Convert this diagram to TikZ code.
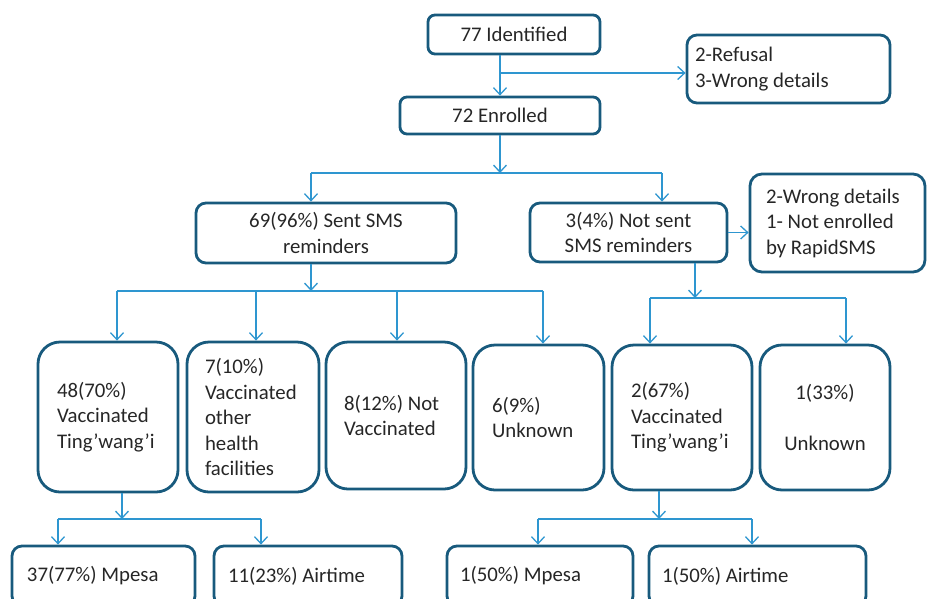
\documentclass[tikz,border=0pt]{standalone}
\usepackage{fontspec}
\setmainfont{Carlito}
\usetikzlibrary{arrows.meta}
\definecolor{boxline}{HTML}{185A7D}
\definecolor{flowline}{HTML}{2E96D0}
\definecolor{txt}{HTML}{262626}

\begin{document}
\begin{tikzpicture}[
  x=1pt, y=-1pt,
  font = \fontsize{20.8}{25.5}\selectfont,
  every node/.style = {text=txt, execute at begin node={\spaceskip=0pt\xspaceskip=0pt}},
  base/.style   = {draw=boxline, line width=2.8pt, inner sep=0pt},
  topbox/.style = {base, rounded corners=7pt, align=center},
  notebox/.style= {base, rounded corners=12pt, align=left},
  tallbox/.style= {base, rounded corners=22pt, align=left},
  endbox/.style = {base, rounded corners=10pt, align=left},
  flow/.style   = {draw=flowline, line width=1.3pt},
  arr/.style    = {flow, -{Straight Barb[length=7pt,width=13pt,line width=1.3pt]}},
]
\clip (0,0) rectangle (927,598);

% Top of the flow
\node[topbox, minimum width=172pt, minimum height=39pt] (ident) at (514,34.5) {77 Identified};
\node[notebox, rounded corners=10pt, minimum height=68pt, inner xsep=8pt, text width=187pt]
      (excl1) at (788.5,69) {2-Refusal\\3-Wrong details};
\node[topbox, minimum width=200pt, minimum height=37pt] (enrol) at (500,115.5) {72 Enrolled};

% Second level
\node[topbox, rounded corners=10pt, minimum width=260pt, minimum height=60pt]
      (sent) at (326,233) {69(96\%) Sent SMS\\reminders};
\node[topbox, rounded corners=10pt, minimum width=197pt, minimum height=59pt]
      (notsent) at (628.5,232.5) {3(4\%) Not sent\\SMS reminders};
\node[notebox, minimum height=98pt, inner xsep=16pt, text width=143pt]
      (excl2) at (837.5,223) {2-Wrong details\\1- Not enrolled\\by RapidSMS};

% Outcomes
\node[tallbox, minimum height=150pt, inner xsep=19pt, text width=102pt]
      (vacT) at (108,417) {48(70\%)\\Vaccinated\\Ting’wang’i};
\node[tallbox, minimum height=150pt, inner xsep=18pt, text width=96pt]
      (vacO) at (253,417) {7(10\%)\\Vaccinated\\other\\health\\facilities};
\node[tallbox, minimum height=147pt, inner xsep=18pt, text width=104pt]
      (novac) at (396,415.5) {8(12\%) Not\\Vaccinated};
\node[tallbox, minimum height=145pt, inner xsep=19pt, text width=93pt]
      (unk) at (538.5,417.5) {6(9\%)\\Unknown};
\node[tallbox, minimum height=145pt, inner xsep=19pt, text width=102pt]
      (vacT2) at (682,417.5) {2(67\%)\\Vaccinated\\Ting’wang’i};
\node[tallbox, align=center, minimum width=130pt, minimum height=145pt]
      (unk2) at (825,417.5) {1(33\%)\\[25.5pt]Unknown};

% Incentives
\node[endbox, minimum height=60pt, inner xsep=15pt, text width=153pt]
      (mpesa) at (103.5,576) {37(77\%) Mpesa};
\node[endbox, minimum height=60pt, inner xsep=14pt, text width=160pt]
      (air) at (308,576) {11(23\%) Airtime};
\node[endbox, minimum height=60pt, inner xsep=13pt, text width=160pt]
      (mpesa2) at (540,576) {1(50\%) Mpesa};
\node[endbox, minimum height=60pt, inner xsep=13pt, text width=191pt]
      (air2) at (757.5,576) {1(50\%) Airtime};

% Junctions
\coordinate (j1) at (500,73);
\coordinate (j2) at (500,173);
\coordinate (j3) at (311,291);
\coordinate (j4) at (695,298);
\coordinate (j5) at (122,519);
\coordinate (j6) at (659,519);

% Identified -> enrolled / excluded
\draw[arr] (enrol.north |- ident.south) -- (enrol.north);
\draw[arr] (j1) -- (j1 -| excl1.west);

% Enrolled -> SMS groups
\draw[arr] (enrol.south) -- (j2);
\draw[flow] (311,173) -- (662,173);
\draw[arr] (311,173) -- (311,173 |- sent.north);
\draw[arr] (662,173) -- (662,173 |- notsent.north);
\draw[arr] (notsent.east) -- (notsent.east -| excl2.west);

% Sent -> outcomes
\draw[arr] (j3 |- sent.south) -- (j3);
\draw[flow] (117,291) -- (543,291);
\foreach \x/\n in {117/vacT, 256/vacO, 397/novac, 543/unk}
  \draw[arr] (\x,291) -- (\x,291 |- \n.north);

% Not sent -> outcomes
\draw[arr] (j4 |- notsent.south) -- (j4);
\draw[flow] (650,298) -- (846,298);
\foreach \x/\n in {650/vacT2, 846/unk2}
  \draw[arr] (\x,298) -- (\x,298 |- \n.north);

% Vaccinated -> incentives
\draw[arr] (j5 |- vacT.south) -- (j5);
\draw[flow] (58,519) -- (261,519);
\foreach \x/\n in {58/mpesa, 261/air}
  \draw[arr] (\x,519) -- (\x,519 |- \n.north);

\draw[arr] (j6 |- vacT2.south) -- (j6);
\draw[flow] (538,519) -- (752,519);
\foreach \x/\n in {538/mpesa2, 752/air2}
  \draw[arr] (\x,519) -- (\x,519 |- \n.north);

\end{tikzpicture}
\end{document}
